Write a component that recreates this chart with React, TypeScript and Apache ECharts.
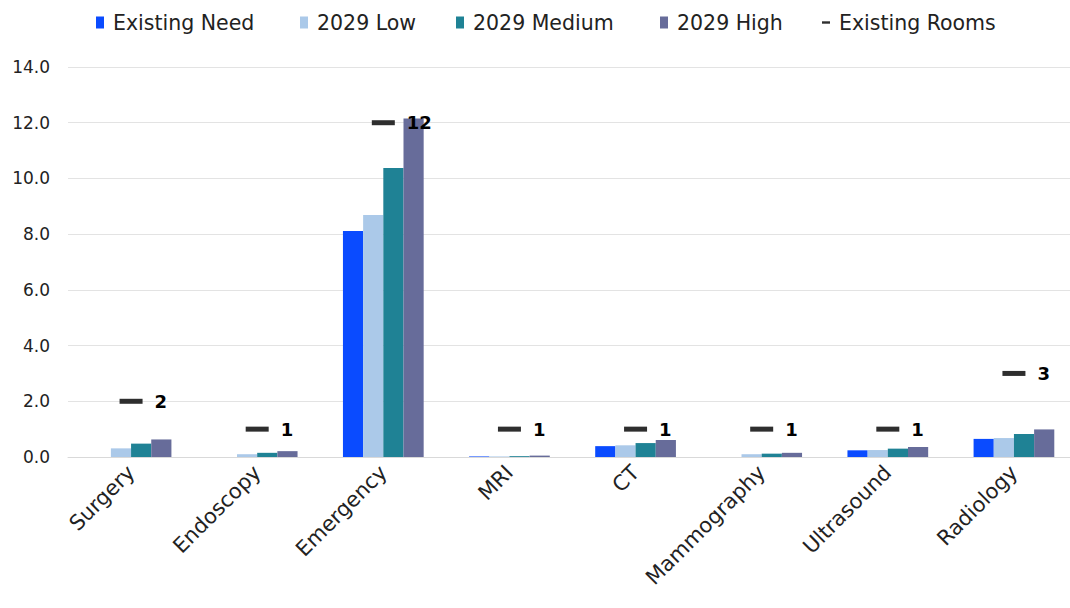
import React, { useEffect, useRef } from "react";
import * as echarts from "echarts";

const categories = ["Surgery", "Endoscopy", "Emergency", "MRI", "CT", "Mammography", "Ultrasound", "Radiology"];
const existingNeed = [0, 0, 8.11, 0.02, 0.39, 0, 0.24, 0.65];
const low2029 = [0.31, 0.1, 8.69, 0.02, 0.42, 0.1, 0.25, 0.68];
const medium2029 = [0.48, 0.15, 10.37, 0.03, 0.5, 0.12, 0.3, 0.83];
const high2029 = [0.63, 0.21, 12.15, 0.05, 0.61, 0.15, 0.36, 0.99];
const existingRooms = [2, 1, 12, 1, 1, 1, 1, 3];

const legendNames = ["Existing Need", "2029 Low", "2029 Medium", "2029 High", "Existing Rooms"];
const legendLefts = [96, 300, 456, 660, 822];

const FONT = "'DejaVu Sans', sans-serif";

export default function App() {
  const ref = useRef<HTMLDivElement>(null);

  useEffect(() => {
    if (!ref.current) return;
    const chart = echarts.init(ref.current, null, { renderer: "svg" });
    const bar = (name: string, data: number[], color: string) => ({
      name,
      type: "bar",
      data,
      barGap: "0%",
      barCategoryGap: "36%",
      itemStyle: { color },
    });
    const legends = legendNames.map((name, i) => ({
      top: 12,
      left: legendLefts[i],
      itemWidth: 8,
      itemHeight: 12,
      padding: 0,
      textStyle: { fontSize: 20.5, color: "#222", fontFamily: FONT, padding: [0, 0, 0, 4] },
      data: [
        {
          name,
          icon: name === "Existing Rooms" ? "path://M0,4H10V7H0Z" : "rect",
        },
      ],
    }));
    chart.setOption({
      animation: false,
      textStyle: { fontFamily: FONT },
      legend: legends,
      grid: {
        left: 68,
        width: 1009,
        top: 67,
        bottom: 151,
        containLabel: false,
        outerBoundsMode: "none",
      },
      xAxis: {
        type: "category",
        data: categories,
        axisTick: { show: false },
        axisLine: { lineStyle: { color: "#d9d9d9", width: 1 } },
        axisLabel: { rotate: 45, fontSize: 21, color: "#222", margin: 12, interval: 0, fontFamily: FONT },
      },
      yAxis: {
        type: "value",
        min: 0,
        max: 14,
        interval: 2,
        axisLabel: {
          fontSize: 17,
          color: "#222",
          margin: 18,
          fontFamily: FONT,
          formatter: (v: number) => v.toFixed(1),
        },
        splitLine: { lineStyle: { color: "#e3e3e3", width: 1 } },
        axisLine: { show: false },
        axisTick: { show: false },
      },
      series: [
        bar("Existing Need", existingNeed, "#0A4BFF"),
        bar("2029 Low", low2029, "#ABC9E9"),
        bar("2029 Medium", medium2029, "#1F8295"),
        bar("2029 High", high2029, "#676C9A"),
        {
          name: "Existing Rooms",
          type: "scatter",
          data: existingRooms,
          symbol: "rect",
          symbolSize: [23, 5],
          itemStyle: { color: "#2e2e2e", opacity: 1 },
          z: 5,
          label: {
            show: true,
            position: "right",
            distance: 12,
            fontSize: 18,
            fontWeight: "bold",
            color: "#000",
            fontFamily: FONT,
          },
        },
      ],
    });
    return () => chart.dispose();
  }, []);

  return (
    <div
      ref={ref}
      style={{ position: "absolute", left: 0, top: 0, width: 1070, height: 608, background: "#fff" }}
    />
  );
}
